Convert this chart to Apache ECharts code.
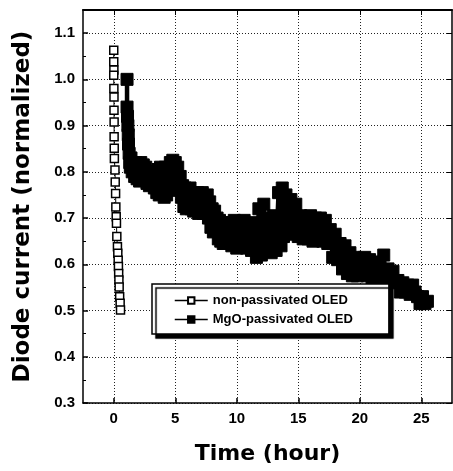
<!DOCTYPE html>
<html>
<head>
<meta charset="utf-8">
<script src="https://cdn.jsdelivr.net/npm/echarts@6/dist/echarts.min.js"></script>
<style>
html,body{margin:0;padding:0;background:#fff;}
#chart{width:453px;height:471px;}
</style>
</head>
<body>
<div id="chart"></div>
<script>
// Non-passivated OLED (open squares)
const nonPassHours = [0.0,0.0,0.01,0.0,0.01,0.02,0.02,0.03,0.03,0.04,0.05,0.1,0.12,0.15,0.17,0.2,0.22,0.25,0.3,0.33,0.36,0.38,0.4,0.42,0.44,0.48,0.52,0.55];
const nonPassValues = [1.063,1.038,1.02,1.009,0.98,0.962,0.933,0.908,0.876,0.851,0.829,0.804,0.778,0.753,0.724,0.703,0.689,0.66,0.638,0.624,0.609,0.595,0.58,0.566,0.551,0.53,0.516,0.501];

// MgO-passivated OLED (filled squares)
const mgoHours = [1.08,1.08,1.12,1.15,1.18,1.2,1.25,1.3,1.35,
1.4,1.5,1.6,1.7,1.8,1.9,2.0,2.1,2.2,2.3,2.4,2.5,2.6,2.7,2.8,2.9,3.0,3.1,3.2,3.3,3.4,3.5,3.6,3.7,3.8,3.9,
4.0,4.1,4.2,4.3,4.4,4.5,4.6,4.7,4.8,4.9,5.0,5.1,5.2,5.3,5.4,5.5,5.6,5.7,5.8,5.9,
6.0,6.1,6.2,6.3,6.4,6.5,6.6,6.7,6.8,6.9,7.0,7.1,7.2,7.3,7.4,7.5,7.6,7.7,7.8,7.9,
8.0,8.1,8.2,8.3,8.4,8.5,8.6,8.7,8.8,8.9,9.0,9.2,9.4,9.6,9.8,
10.0,10.2,10.4,10.6,10.8,11.0,11.2,11.4,11.6,11.8,12.0,12.2,12.4,12.6,12.8,13.0,13.2,13.4,13.6,13.7,13.8,
14.0,14.2,14.4,14.6,14.8,15.0,15.2,15.4,15.6,15.8,16.0,16.2,16.4,16.6,16.8,17.0,17.2,17.4,17.6,17.8,
18.0,18.2,18.4,18.6,18.8,19.0,19.2,19.4,19.6,19.8,20.0,20.2,20.4,20.6,20.8,21.0,21.2,21.4,21.6,21.8,21.95,
22.1,22.3,22.5,22.7,22.9,23.1,23.3,23.5,23.7,23.9,24.1,24.3,24.5,24.7,24.9,25.1,25.3,25.5];
const mgoValues = [1.0,0.94,0.92,0.9,0.88,0.86,0.84,0.82,0.81,
0.83,0.8,0.815,0.79,0.82,0.785,0.81,0.78,0.82,0.795,0.815,0.785,0.81,0.775,0.8,0.77,0.795,0.775,0.8,0.765,0.79,0.755,0.805,0.75,0.81,0.76,
0.8,0.745,0.81,0.75,0.805,0.76,0.82,0.765,0.825,0.77,0.82,0.775,0.81,0.765,0.79,0.745,0.77,0.725,0.765,0.72,
0.76,0.73,0.765,0.72,0.755,0.715,0.75,0.72,0.755,0.71,0.75,0.715,0.755,0.71,0.745,0.715,0.75,0.7,0.735,0.68,
0.72,0.67,0.715,0.675,0.7,0.655,0.695,0.65,0.69,0.645,0.685,0.65,0.69,0.64,0.695,
0.635,0.69,0.64,0.695,0.635,0.685,0.63,0.69,0.615,0.72,0.62,0.73,0.64,0.7,0.625,0.705,0.63,0.755,0.64,0.765,0.66,
0.75,0.67,0.74,0.665,0.73,0.66,0.705,0.655,0.7,0.655,0.705,0.65,0.7,0.655,0.7,0.65,0.695,0.645,0.675,0.615,
0.665,0.61,0.645,0.59,0.64,0.58,0.625,0.575,0.615,0.575,0.61,0.58,0.615,0.575,0.61,0.57,0.605,0.57,0.595,0.575,0.62,
0.57,0.59,0.565,0.585,0.56,0.565,0.54,0.56,0.54,0.555,0.535,0.555,0.54,0.53,0.515,0.53,0.515,0.52];

const seriesNames = ['non-passivated OLED','MgO-passivated OLED'];
const xTicks = [0,5,10,15,20,25];
const yTicks = [0.3,0.4,0.5,0.6,0.7,0.8,0.9,1.0,1.1];

const nonPassData = nonPassHours.map((h,i)=>[h,nonPassValues[i]]);
const mgoData = mgoHours.map((h,i)=>[h,mgoValues[i]]);

const chart = echarts.init(document.getElementById('chart'), null, {renderer:'canvas'});
const labelFont = {color:'#000', fontFamily:'Liberation Sans, Arial, sans-serif', fontWeight:'bold', fontSize:15};
const gridLineStyle = {color:'#222', type:[1,2], width:1};

chart.setOption({
  backgroundColor:'#fff',
  animation:false,
  grid:{left:83, right:1, top:10, bottom:68, containLabel:false},
  legend:{
    data:seriesNames,
    orient:'vertical',
    left:152, top:284,
    padding:[10,36,8,22],
    itemWidth:33, itemHeight:8, itemGap:6,
    lineStyle:{width:1.5},
    backgroundColor:'#fff',
    borderColor:'#000', borderWidth:1.5,
    shadowColor:'#000', shadowBlur:1, shadowOffsetX:4, shadowOffsetY:4,
    textStyle:{color:'#000', fontFamily:'Liberation Sans, Arial, sans-serif', fontWeight:'bold', fontSize:13}
  },
  xAxis:[{
    type:'value', min:-2.5, max:27.5, interval:2.5,
    name:'Time (hour)', nameLocation:'middle', nameGap:40,
    nameTextStyle:{color:'#000', fontFamily:'DejaVu Sans, sans-serif', fontWeight:'bold', fontSize:22},
    axisLine:{show:true, onZero:false, lineStyle:{color:'#000', width:1.5}},
    axisTick:{show:true, inside:true, length:5, customValues:xTicks, lineStyle:{color:'#000', width:1.5}},
    axisLabel:Object.assign({margin:8, customValues:xTicks, formatter:v=>String(v)}, labelFont),
    splitLine:{show:true, customValues:xTicks, lineStyle:gridLineStyle}
  },{
    type:'value', min:-2.5, max:27.5, interval:2.5, position:'top',
    axisLine:{show:true, onZero:false, lineStyle:{color:'#000', width:2}},
    axisTick:{show:true, inside:true, length:5, customValues:xTicks, lineStyle:{color:'#000'}},
    axisLabel:{show:false}, splitLine:{show:false}
  }],
  yAxis:[{
    type:'value', min:0.3, max:1.15, interval:0.1,
    name:'Diode current (normalized)', nameLocation:'middle', nameGap:48,
    nameTextStyle:{color:'#000', fontFamily:'DejaVu Sans, sans-serif', fontWeight:'bold', fontSize:23},
    axisLine:{show:true, onZero:false, lineStyle:{color:'#000', width:1.5}},
    axisTick:{show:true, inside:true, length:5, lineStyle:{color:'#000', width:1.5}},
    minorTick:{show:true, splitNumber:2, length:3, lineStyle:{color:'#000', width:1}},
    axisLabel:Object.assign({margin:8, showMaxLabel:false,
      formatter:v=> yTicks.some(t=>Math.abs(t-v)<1e-6) ? v.toFixed(1) : ''}, labelFont),
    splitLine:{show:true, lineStyle:gridLineStyle}
  },{
    type:'value', min:0.3, max:1.15, interval:0.1, position:'right',
    axisLine:{show:true, onZero:false, lineStyle:{color:'#000', width:1.5}},
    axisTick:{show:true, inside:true, length:5, lineStyle:{color:'#000'}},
    axisLabel:{show:false}, splitLine:{show:false}
  }],
  series:[{
    name:seriesNames[0], type:'line', data:nonPassData,
    symbol:'rect', symbolSize:8,
    itemStyle:{color:'#fff', borderColor:'#000', borderWidth:1.5},
    lineStyle:{color:'#000', width:1},
    z:3
  },{
    name:seriesNames[1], type:'line', data:mgoData,
    symbol:'rect', symbolSize:12,
    itemStyle:{color:'#000', borderColor:'#000', borderWidth:1},
    lineStyle:{color:'#000', width:4.5},
    z:2
  }]
});
</script>
</body>
</html>
